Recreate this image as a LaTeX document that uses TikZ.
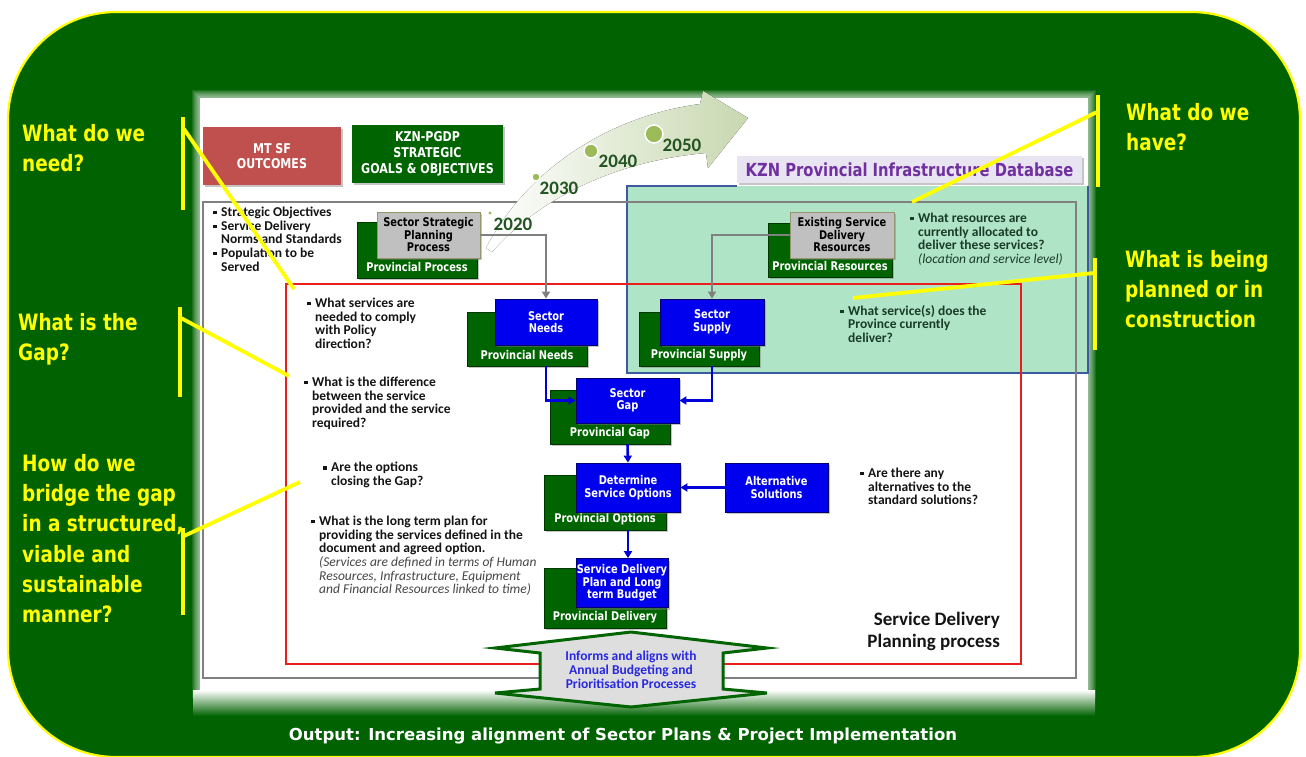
\documentclass[tikz,border=0pt]{standalone}
\usepackage{fontspec}
\setmainfont{Carlito}
\newfontfamily\tah{DejaVu Sans}[FakeStretch=0.82]
\newfontfamily\tahw{DejaVu Sans}
\usetikzlibrary{shadows,arrows.meta,calc}
\definecolor{bggreen}{RGB}{0,98,0}
\definecolor{ylw}{RGB}{255,255,0}
\definecolor{boxgreen}{RGB}{0,100,0}
\definecolor{dkgreen}{RGB}{0,55,0}
\definecolor{boxblue}{RGB}{0,0,238}
\definecolor{dkblue}{RGB}{0,0,110}
\definecolor{mtsf}{RGB}{192,80,77}
\definecolor{mint}{RGB}{176,228,198}
\definecolor{dbblue}{RGB}{60,90,160}
\definecolor{kpurple}{RGB}{112,48,160}
\definecolor{lav}{RGB}{232,228,242}
\definecolor{grayfill}{RGB}{192,192,192}
\definecolor{grayedge}{RGB}{150,150,110}
\definecolor{yeargreen}{RGB}{35,85,35}
\definecolor{dotgreen}{RGB}{155,187,89}
\definecolor{arrowgreen}{RGB}{200,216,176}
\definecolor{txt}{RGB}{20,20,20}
\definecolor{dbtxt}{RGB}{25,60,40}
\definecolor{ital}{RGB}{70,70,70}
\definecolor{hexfill}{RGB}{222,222,222}
\definecolor{infoblue}{RGB}{40,40,225}
\definecolor{framegray}{RGB}{128,128,128}
\definecolor{conngray}{RGB}{128,128,128}
\definecolor{connblue}{RGB}{0,0,220}
\definecolor{redframe}{RGB}{235,30,30}
\newcommand\bsq{\makebox[8pt][l]{\rule[2.2pt]{3.5pt}{3.5pt}}}
\newcommand\ind{\hspace*{8pt}}
\begin{document}
\begin{tikzpicture}[x=1pt,y=-1pt,
  shad/.style={drop shadow={opacity=0.45,shadow xshift=2pt,shadow yshift=-2pt}},
  gbox/.style={shad,draw=dkgreen,line width=0.8pt,fill=boxgreen,inner sep=0},
  bbox/.style={shad,draw=dkblue,line width=0.8pt,fill=boxblue,inner sep=0,text=white,align=center,font=\tah\bfseries\fontsize{12}{12.5}\selectfont},
  grbox/.style={shad,draw=grayedge,line width=0.8pt,fill=grayfill,inner sep=0,text=black,align=center,font=\tah\bfseries\fontsize{12}{12.5}\selectfont},
  glab/.style={text=white,inner sep=0,font=\tah\bfseries\fontsize{12}{12.5}\selectfont},
  topbox/.style={shad,inner sep=0,text=white,align=center,font=\tah\bfseries\fontsize{13.5}{15.8}\selectfont},
  bul/.style={anchor=north west,inner sep=0,align=left,text=txt,font=\bfseries\fontsize{13.5}{13.6}\selectfont},
  ylab/.style={anchor=north west,inner sep=0,align=left,text=ylw,font=\tah\bfseries\fontsize{22.5}{30.3}\selectfont},
  yr/.style={inner sep=0,text=yeargreen,font=\bfseries\fontsize{19}{19}\selectfont},
  garrow/.style={draw=conngray,line width=2.6pt,-{Triangle[length=7pt,width=8pt]}},
  barrow/.style={draw=connblue,line width=2.6pt,-{Triangle[length=7pt,width=8pt]}},
  yline/.style={draw=ylw,line width=3.8pt}]
\useasboundingbox (0,0) rectangle (1306,756);
\fill[white] (0,0) rectangle (1306,756);
% outer green rounded panel
\draw[ylw,line width=2.2pt,fill=bggreen,rounded corners=108] (8,12) rectangle (1300,757);
% white inner panel with soft edge
\foreach \w in {2,4,...,16} \draw[white,opacity=0.1,line width=\w pt] (200,98) rectangle (1088,690);
\fill[white] (200,98) rectangle (1088,690);
\fill[top color=white,bottom color=bggreen] (193,690) rectangle (1095,716);
% database region
\fill[mint] (627,186) rectangle (1088,373);
\draw[dbblue,line width=1.2pt] (737,186) -- (627,186) -- (627,373) -- (1088,373) -- (1088,186);
% frames
\draw[framegray,line width=1.3pt] (203,202) rectangle (1076,678);
\draw[redframe,line width=1.3pt] (286,284) rectangle (1021,664);
% database title
\node[shad,fill=lav,minimum width=345pt,minimum height=27pt,inner sep=0,text=kpurple,font=\tah\bfseries\fontsize{18}{18}\selectfont] (kzn) at (909.5,169.5) {KZN Provincial Infrastructure Database};
% curved time arrow
\fill[left color=white,right color=arrowgreen] (486,248) .. controls (528,168) and (610,116) .. (700,104) -- (703,91) -- (748,118) -- (708,168) -- (706,153) .. controls (625,160) and (545,192) .. (492,252) -- cycle;
\fill[dotgreen] (490,213) circle[radius=1.6pt];
\filldraw[fill=dotgreen,draw=white,line width=1.2pt] (536,177) circle[radius=4pt];
\filldraw[fill=dotgreen,draw=white,line width=1.5pt] (591,151) circle[radius=7pt];
\filldraw[fill=dotgreen,draw=white,line width=1.5pt] (654,134) circle[radius=9pt];
\node[yr] (y2020) at (513,224) {2020};
\node[yr] (y2030) at (559,188) {2030};
\node[yr] (y2040) at (618,161) {2040};
\node[yr] (y2050) at (682,145) {2050};
% top boxes
\node[topbox,fill=mtsf,minimum width=138pt,minimum height=58pt] (mtsfb) at (272,156) {MT SF\\OUTCOMES};
\node[topbox,fill=boxgreen,minimum width=151pt,minimum height=58pt] (pgdp) at (427.5,154) {KZN-PGDP\\STRATEGIC\\GOALS \& OBJECTIVES};
% process boxes
\node[gbox,minimum width=120pt,minimum height=56pt] (pp) at (417,250) {};
\node[glab] (ppl) at ([yshift=11pt]pp.south) {Provincial Process};
\node[grbox,minimum width=103pt,minimum height=46pt] (ssp) at (428.5,235) {Sector Strategic\\Planning\\Process};
\node[gbox,minimum width=124pt,minimum height=54pt] (prs) at (830,250) {};
\node[glab] (prsl) at ([yshift=11pt]prs.south) {Provincial Resources};
\node[grbox,minimum width=104pt,minimum height=46pt] (esr) at (842,235) {Existing Service\\Delivery\\Resources};
\node[gbox,minimum width=120pt,minimum height=54pt] (pn) at (527,339) {};
\node[glab] (pnl) at ([yshift=11pt]pn.south) {Provincial Needs};
\node[bbox,minimum width=102pt,minimum height=46pt] (sn) at (546,322) {Sector\\Needs};
\node[gbox,minimum width=120pt,minimum height=54pt] (ps) at (699,339) {};
\node[glab] (psl) at ([yshift=11pt]ps.south) {Provincial Supply};
\node[bbox,minimum width=104pt,minimum height=46pt] (ss) at (712,322) {Sector\\Supply};
\node[gbox,minimum width=120pt,minimum height=54pt] (pg) at (610,417) {};
\node[glab] (pgl) at ([yshift=11pt]pg.south) {Provincial Gap};
\node[bbox,minimum width=103pt,minimum height=45pt] (sg) at (627.5,400.5) {Sector\\Gap};
\node[gbox,minimum width=122pt,minimum height=55pt] (po) at (605,502.5) {};
\node[glab] (pol) at ([yshift=11pt]po.south) {Provincial Options};
\node[bbox,minimum width=104pt,minimum height=49pt] (do) at (628,487.5) {Determine\\Service Options};
\node[bbox,minimum width=103pt,minimum height=49pt] (alt) at (776.5,487.5) {Alternative\\Solutions};
\node[gbox,minimum width=122pt,minimum height=60pt] (pd) at (605,598) {};
\node[glab] (pdl) at ([yshift=11pt]pd.south) {Provincial Delivery};
\node[bbox,minimum width=92pt,minimum height=49pt] (sdp) at (622,583) {Service Delivery\\Plan and Long\\term Budget};
% connectors
\draw[garrow] (ssp.east) -| (sn.north);
\draw[garrow] (esr.west) -| (ss.north);
\draw[barrow] (sn.south |- pn.south) |- (sg.west);
\draw[barrow] (ss.south |- ps.south) |- (sg.east);
\draw[barrow] (sg.south |- pg.south) -- (do.north);
\draw[barrow] (alt.west) -- (do.east);
\draw[barrow] (do.south |- po.south) -- (do.south |- sdp.north);
% double arrow to budgeting
\filldraw[fill=hexfill,draw=boxgreen,line width=3pt,line join=miter] (631,632) -- (495,648) -- (540,653) -- (540,689) -- (495,693) -- (631,707) -- (767,693) -- (723,689) -- (723,653) -- (767,648) -- cycle;
\node[inner sep=0,align=center,text=infoblue,font=\bfseries\fontsize{13.5}{14}\selectfont] (info) at (631,670) {Informs and aligns with\\Annual Budgeting and\\Prioritisation Processes};
% texts
\node[bul] (b1) at (213,207) {\bsq Strategic Objectives\\\bsq Service Delivery\\\ind Norms and Standards\\\bsq Population to be\\\ind Served};
\node[bul] (b2) at (307,298) {\bsq What services are\\\ind needed to comply\\\ind with Policy\\\ind direction?};
\node[bul] (b3) at (304,377) {\bsq What is the difference\\\ind between the service\\\ind provided and the service\\\ind required?};
\node[bul] (b4) at (323,462) {\bsq Are the options\\\ind closing the Gap?};
\node[bul] (b5) at (311,516) {\bsq What is the long term plan for\\\ind providing the services defined in the\\\ind document and agreed option.\\\ind{\mdseries\itshape\color{ital}(Services are defined in terms of Human}\\\ind{\mdseries\itshape\color{ital}Resources, Infrastructure, Equipment}\\\ind{\mdseries\itshape\color{ital}and Financial Resources linked to time)}};
\node[bul] (b6) at (860,468) {\bsq Are there any\\\ind alternatives to the\\\ind standard solutions?};
\node[bul,text=dbtxt] (b7) at (910,213) {\bsq What resources are\\\ind currently allocated to\\\ind deliver these services?\\\ind{\mdseries\itshape(location and service level)}};
\node[bul,text=dbtxt] (b8) at (840,305) {\bsq What service(s) does the\\\ind Province currently\\\ind deliver?};
\node[anchor=north east,inner sep=0,align=right,text=txt,font=\bfseries\fontsize{19}{22}\selectfont] (sdpp) at (1000,612) {Service Delivery\\Planning process};
\node[inner sep=0,text=white,font=\tahw\bfseries\fontsize{16.5}{16.5}\selectfont] (out) at (623,736) {Output: Increasing alignment of Sector Plans \& Project Implementation};
% yellow labels
\node[ylab] (l1) at (22,124) {What do we\\need?};
\node[ylab] (l2) at (18,313) {What is the\\Gap?};
\node[ylab] (l3) at (22,454) {How do we\\bridge the gap\\in a structured,\\viable and\\sustainable\\manner?};
\node[ylab] (r1) at (1126,103) {What do we\\have?};
\node[ylab] (r2) at (1125,250) {What is being\\planned or in\\construction};
\coordinate (c1) at (294,289);
\coordinate (c2) at (289,376);
\coordinate (c3) at (300,482);
\coordinate (c4) at (912,202);
\coordinate (c5) at (853,298);
\draw[yline] (183,117) -- (183,210);
\draw[yline] (184,129) -- (c1);
\draw[yline] (180,307) -- (180,397);
\draw[yline] (181,318) -- (c2);
\draw[yline] (183,528) -- (183,615);
\draw[yline] (184,536) -- (c3);
\draw[yline] (1098,95) -- (1098,187);
\draw[yline] (1097,112) -- (c4);
\draw[yline] (1095,258) -- (1095,350);
\draw[yline] (1094,273) -- (c5);
\end{tikzpicture}
\end{document}
